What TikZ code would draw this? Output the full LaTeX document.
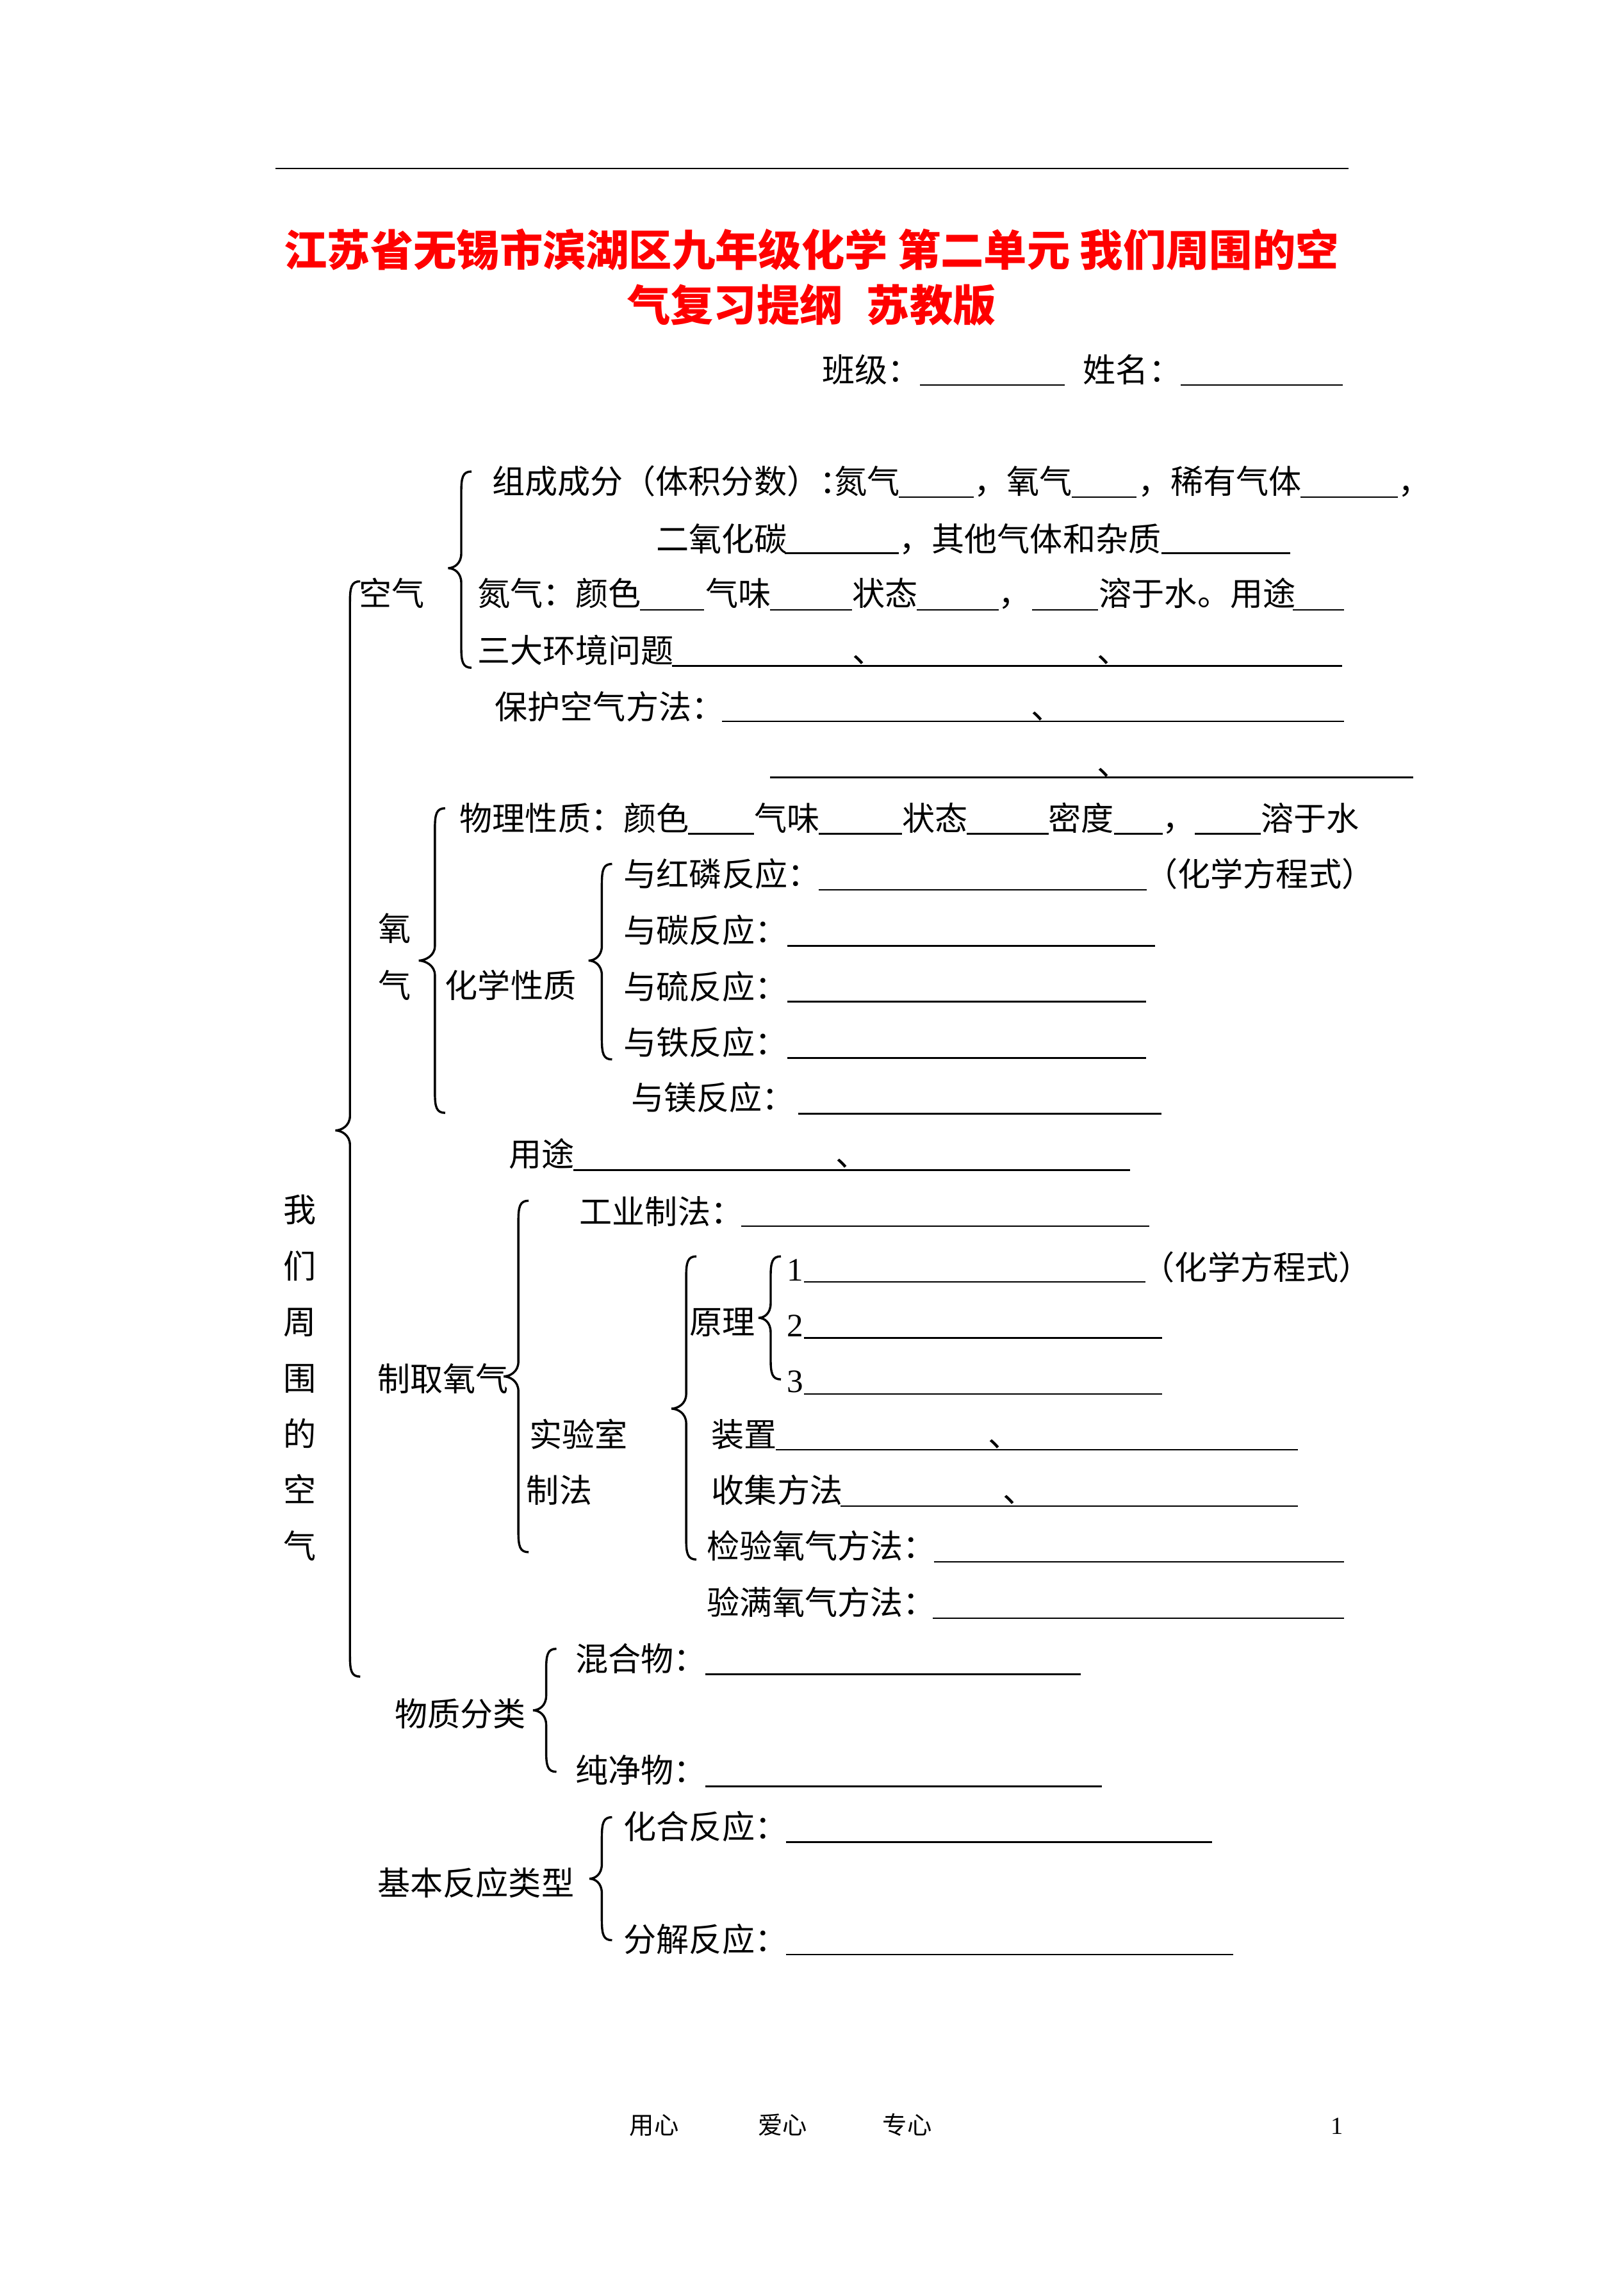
\documentclass[tikz,border=0pt]{standalone}
\usepackage{fontspec}
\newfontfamily\cjk{Noto Sans CJK SC}
\newfontfamily\tms{Liberation Serif}
\tikzset{
 txt/.style={inner sep=0pt, outer sep=0pt, text height=0.92em, text depth=0pt, anchor=west, font=\cjk\fontsize{12}{14}\selectfont},
 ttl/.style={txt, text height=0.96em, text=red, font=\cjk\bfseries\fontsize{15.8}{18}\selectfont},
 num/.style={txt, font=\tms\fontsize{12}{14}\selectfont},
 foot/.style={txt, font=\cjk\fontsize{9}{11}\selectfont},
 uline/.style={line width=0.6pt},
 thinline/.style={line width=0.5pt},
 brcline/.style={line width=0.8pt},
}
\newcommand\mytxt[4]{\node[txt] (#1) at (#2,#3) {#4};}
\newcommand\myul[3]{\draw[uline] (#1,#3) -- (#2,#3);}
\newcommand\mybrc[5]{\draw[brcline] ({#1+7},#2) .. controls ({#1+1},#2) and (#1,{#2+4}) .. (#1,{#2+14}) -- (#1,{#4-10}) .. controls (#1,{#4-3}) and ({#3+4},#4) .. (#3,#4) .. controls ({#3+4},#4) and (#1,{#4+3}) .. (#1,{#4+10}) -- (#1,{#5-14}) .. controls (#1,{#5-4}) and ({#1+1},#5) .. ({#1+7},#5);}
\begin{document}
\begin{tikzpicture}[x=0.5365pt,y=-0.5365pt]
\useasboundingbox[fill=white] (0,0) rectangle (1109,1568);
% top rule
\draw[thinline] (188,115) -- (921,115);
% title
\node[ttl] (title1) at (194,172.8) {江苏省无锡市滨湖区九年级化学 第二单元 我们周围的空};
\node[ttl] (title2) at (428.4,210.6) {气复习提纲\hspace{0.55em}苏教版};
% class / name
\mytxt{cls}{561.5}{252.2}{班级：}
\draw[thinline] (628.2,263.1) -- (727.1,263.1);
\mytxt{nam}{739.7}{252.2}{姓名：}
\draw[thinline] (806.4,263.1) -- (916.9,263.1);

% ---------- 空气 ----------
\mytxt{kq}{245}{405}{空气}
\mybrc{315}{322}{306}{388}{456}
\mytxt{a1}{336}{328.6}{组成成分（体积分数）：}
\mytxt{a2}{570}{328.6}{氮气}
\myul{614}{665}{339.5}
\mytxt{a3}{665}{328.6}{，氧气}
\myul{732}{776}{339.5}
\mytxt{a4}{777}{328.6}{，稀有气体}
\myul{888}{954.5}{339.5}
\mytxt{a5}{955}{328.6}{，}
\mytxt{b1}{448}{367.7}{二氧化碳}
\myul{536}{614}{377.8}
\mytxt{b2}{614}{367.7}{，其他气体和杂质}
\myul{793}{881}{377.8}
\mytxt{c1}{326}{405}{氮气：颜色}
\myul{437}{481}{416.4}
\mytxt{c2}{482}{405}{气味}
\myul{526}{582}{416.4}
\mytxt{c3}{582}{405}{状态}
\myul{626}{682}{416.4}
\mytxt{c4}{682}{405}{，}
\myul{705}{750}{416.4}
\mytxt{c5}{750.6}{405}{溶于水。用途}
\myul{883}{918}{416.4}
\mytxt{d1}{326}{444}{三大环境问题}
\myul{459}{916.5}{454.7}
\mytxt{d2}{582}{444}{、}
\mytxt{d3}{749}{444}{、}
\mytxt{e1}{338}{482.5}{保护空气方法：}
\myul{493}{918}{492.7}
\mytxt{e2}{704}{482.5}{、}
\myul{526}{965}{531}
\mytxt{f1}{749}{521}{、}

% ---------- 氧气 ----------
\mytxt{yq1}{258.5}{634}{氧}
\mytxt{yq2}{258.5}{673}{气}
\mybrc{297}{552}{286}{656}{760}
\mytxt{g1}{314}{558.8}{物理性质：颜色}
\myul{470}{515}{569.3}
\mytxt{g2}{515}{558.8}{气味}
\myul{559}{616}{569.3}
\mytxt{g3}{616}{558.8}{状态}
\myul{660}{716}{569.3}
\mytxt{g4}{716}{558.8}{密度}
\myul{761}{794}{569.3}
\mytxt{g5}{794}{558.8}{，}
\myul{816}{861}{569.3}
\mytxt{g6}{861}{558.8}{溶于水}
\mytxt{hx}{304}{673}{化学性质}
\mybrc{411}{590}{402}{656}{723.5}
\mytxt{h1}{426}{596.5}{与红磷反应：}
\myul{559}{783}{607.6}
\mytxt{h1b}{782}{596.5}{（化学方程式）}
\mytxt{h2}{426}{635}{与碳反应：}
\myul{537.6}{789}{645.9}
\mytxt{h3}{426}{673.5}{与硫反应：}
\myul{537.6}{782.6}{684.1}
\mytxt{h4}{426}{711.6}{与铁反应：}
\myul{537.6}{782.6}{722.4}
\mytxt{h5}{431}{749.3}{与镁反应：}
\myul{545}{793}{760.5}
\mytxt{yt}{347.7}{788}{用途}
\myul{391.6}{771.8}{799}
\mytxt{yt2}{570.5}{788}{、}

% ---------- big brace & vertical title ----------
\mybrc{239}{397}{229}{772}{1145}
\foreach \ch [count=\i] in {我,们,周,围,的,空,气}
  \node[txt] (w\i) at (193.8,{826.1+(\i-1)*38.23}) {\ch};

% ---------- 制取氧气 ----------
\mytxt{zq}{257.7}{941.3}{制取氧气}
\mybrc{354}{820}{344}{940}{1060}
\mytxt{gy}{395.8}{827.1}{工业制法：}
\myul{506}{785}{837.3}
\mytxt{sy1}{361.6}{979.4}{实验室}
\mytxt{sy2}{359.6}{1017.5}{制法}
\mybrc{468.6}{858}{458.5}{962}{1065}
\mytxt{yl}{471}{902.3}{原理}
\mybrc{526.3}{858}{518}{900}{942}
\node[num] (p1) at (537.5,866.2) {1};
\myul{549}{782.3}{875.5}
\mytxt{p1b}{780}{865.2}{（化学方程式）}
\node[num] (p2) at (537.5,904.2) {2};
\myul{549}{793.4}{913.6}
\node[num] (p3) at (537.5,942.3) {3};
\myul{549}{793.4}{952}
\mytxt{zz}{486}{979.4}{装置}
\myul{529.8}{886.2}{990.1}
\mytxt{zz2}{675}{979.4}{、}
\mytxt{sj}{486}{1017.5}{收集方法}
\myul{574}{886.2}{1028.6}
\mytxt{sj2}{685}{1017.5}{、}
\mytxt{jy}{482.6}{1055.5}{检验氧气方法：}
\myul{637.7}{917.9}{1066.7}
\mytxt{ym}{482.6}{1094}{验满氧气方法：}
\myul{637}{918}{1105.2}

% ---------- 物质分类 ----------
\mytxt{wz}{269.7}{1170.2}{物质分类}
\mybrc{373}{1126}{364}{1168}{1210}
\mytxt{hh}{393}{1132.5}{混合物：}
\myul{481.6}{738}{1143.4}
\mytxt{cj}{393}{1208.7}{纯净物：}
\myul{481.6}{752.4}{1219.9}

% ---------- 基本反应类型 ----------
\mytxt{jb}{257.9}{1285.6}{基本反应类型}
\mybrc{411}{1241}{402.5}{1283}{1325}
\mytxt{hf}{426}{1247.2}{化合反应：}
\myul{536.6}{827.7}{1258}
\mytxt{fj}{426}{1324.1}{分解反应：}
\myul{536.6}{842}{1334.7}

% ---------- footer ----------
\node[foot] (f1) at (430,1449) {用心};
\node[foot] (f2) at (517.8,1449) {爱心};
\node[foot] (f3) at (602.8,1449) {专心};
\node[foot, font=\tms\fontsize{9}{11}\selectfont] (f4) at (909,1449) {1};
\end{tikzpicture}
\end{document}
